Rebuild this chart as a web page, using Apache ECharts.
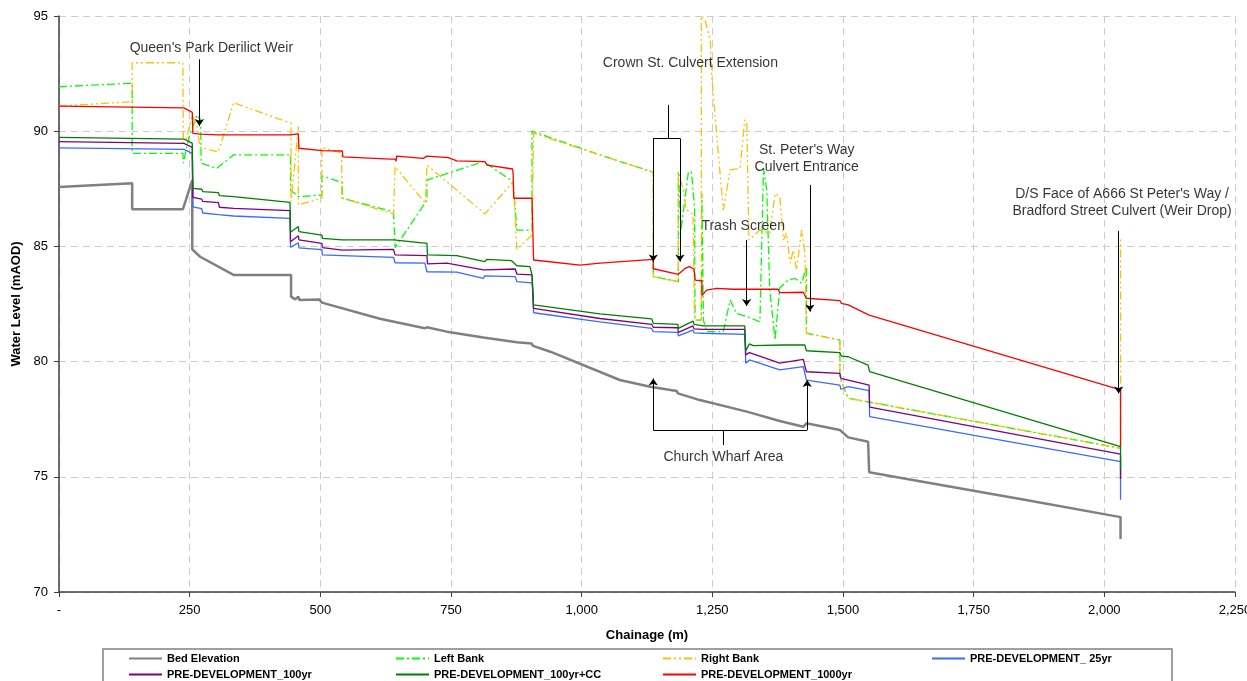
<!DOCTYPE html>
<html><head><meta charset="utf-8">
<script src="https://cdn.jsdelivr.net/npm/echarts@6.0.0/dist/echarts.min.js"></script>
<style>html,body{margin:0;padding:0;background:#fff;overflow:hidden}#c{width:1247px;height:681px}</style>
</head><body><div id="c"></div>
<script>
// ---- data (chainage m, level mAOD) ----
const xTicks = [0, 250, 500, 750, 1000, 1250, 1500, 1750, 2000, 2250];
const yTicks = [70, 75, 80, 85, 90, 95];

const bedElevation = [[0,87.58],[140,87.74],[140,86.61],[237,86.61],[255,87.88],[255,84.87],[270,84.55],[334,83.76],[444,83.76],[444,82.82],[452,82.70],[458,82.82],[460,82.67],[498,82.70],[503,82.56],[614,81.86],[700,81.45],[704,81.49],[706,81.42],[742,81.30],[812,81.05],[876,80.84],[904,80.79],[907,80.68],[940,80.43],[1073,79.20],[1131,78.91],[1182,78.72],[1184,78.62],[1226,78.33],[1316,77.83],[1379,77.42],[1424,77.17],[1430,77.32],[1494,77.03],[1510,76.71],[1548,76.52],[1550,75.20],[1609,74.96],[1850,73.99],[2031,73.25],[2031,72.30]];

const leftBank = [[0,91.93],[140,92.08],[140,89.04],[237,89.04],[238,88.61],[248,89.70],[264,90.70],[271,90.50],[272,88.61],[302,88.39],[334,88.97],[443,88.97],[443,87.45],[458,87.16],[503,87.23],[503,88.06],[542,87.77],[542,87.09],[640,86.50],[643,84.95],[704,87.00],[704,87.88],[812,88.68],[869,87.81],[876,85.71],[905,85.71],[905,90.00],[1035,88.97],[1137,88.22],[1137,83.69],[1185,83.47],[1185,88.24],[1190,85.70],[1204,88.20],[1210,88.24],[1216,86.70],[1217,81.80],[1229,81.80],[1230,87.30],[1233,87.30],[1233,81.80],[1239,81.30],[1271,81.30],[1284,82.67],[1296,82.10],[1322,81.90],[1341,81.73],[1345,85.60],[1348,88.40],[1354,87.45],[1360,83.10],[1370,80.94],[1379,83.20],[1395,83.54],[1408,83.61],[1421,83.40],[1430,84.12],[1430,81.23],[1494,80.94],[1494,79.30],[1510,78.41],[2031,76.24]];

const rightBank = [[0,91.09],[140,91.28],[140,92.97],[237,92.97],[238,89.50],[244,89.70],[255,90.70],[264,90.20],[270,89.30],[305,89.10],[334,91.24],[444,90.34],[444,86.94],[458,90.20],[458,86.80],[503,87.10],[503,89.30],[541,89.05],[541,87.10],[640,86.41],[643,88.46],[701,86.87],[704,88.53],[815,86.41],[869,87.81],[876,84.87],[905,85.49],[908,89.91],[1035,88.97],[1137,88.22],[1137,83.69],[1185,83.47],[1185,88.24],[1195,87.40],[1200,86.60],[1213,86.40],[1216,86.40],[1216,81.80],[1229,81.80],[1229,95.00],[1236,94.83],[1246,93.96],[1249,92.37],[1258,89.91],[1271,86.58],[1284,88.32],[1303,88.39],[1312,90.49],[1316,90.40],[1320,85.28],[1341,85.71],[1360,85.57],[1370,87.30],[1379,87.16],[1386,85.28],[1392,85.57],[1399,84.27],[1405,84.84],[1411,83.98],[1421,85.71],[1427,84.70],[1430,81.23],[1494,80.94],[1494,79.30],[1510,78.41],[2031,76.24],[2031,85.30]];

const preDev25yr = [[0,89.28],[239,89.21],[255,89.04],[256,86.72],[273,86.64],[275,86.45],[305,86.38],[307,86.34],[334,86.32],[442,86.22],[443,84.96],[458,85.16],[459,84.94],[503,84.86],[504,84.63],[542,84.60],[543,84.53],[640,84.52],[643,84.29],[700,84.27],[704,83.90],[761,83.88],[812,83.61],[814,83.72],[873,83.69],[876,83.47],[905,83.42],[906,83.18],[908,82.12],[1035,81.72],[1134,81.44],[1137,81.30],[1184,81.27],[1185,81.12],[1213,81.37],[1215,81.25],[1233,81.23],[1312,81.18],[1314,79.93],[1321,80.07],[1379,79.64],[1424,79.78],[1430,79.20],[1494,78.98],[1496,78.80],[1510,78.91],[1550,78.74],[1551,77.61],[2031,75.66],[2031,74.00]];

const preDev100yr = [[0,89.55],[239,89.47],[255,89.30],[256,87.13],[273,87.05],[275,86.95],[305,86.90],[307,86.70],[334,86.65],[442,86.55],[443,85.20],[458,85.46],[459,85.28],[503,85.13],[504,84.95],[542,84.84],[640,84.87],[643,84.63],[704,84.60],[705,84.24],[742,84.27],[812,83.98],[814,84.05],[873,84.02],[876,83.80],[905,83.76],[908,82.31],[1035,81.87],[1134,81.62],[1137,81.49],[1184,81.47],[1185,81.27],[1213,81.55],[1215,81.42],[1233,81.40],[1312,81.40],[1314,80.29],[1321,80.39],[1379,79.93],[1424,80.10],[1430,79.56],[1494,79.49],[1496,79.27],[1510,79.20],[1550,78.98],[1551,78.02],[2031,75.98],[2031,74.90]];

const preDev100yrCC = [[0,89.73],[239,89.66],[255,89.47],[256,87.52],[273,87.48],[275,87.38],[305,87.33],[307,87.20],[334,87.16],[442,86.91],[443,85.61],[458,85.86],[459,85.64],[503,85.49],[504,85.35],[542,85.28],[640,85.28],[643,85.25],[704,85.13],[705,84.63],[761,84.60],[815,84.34],[818,84.44],[866,84.38],[876,84.16],[901,84.12],[905,83.76],[908,82.46],[1035,82.07],[1134,81.85],[1137,81.66],[1184,81.62],[1185,81.44],[1213,81.76],[1215,81.62],[1233,81.55],[1312,81.55],[1314,80.47],[1321,80.77],[1328,80.69],[1386,80.72],[1427,80.72],[1430,80.47],[1494,80.39],[1497,80.24],[1510,80.21],[1548,79.85],[1551,79.56],[2031,76.31],[2031,75.30]];

const preDev1000yr = [[0,91.09],[239,91.01],[255,90.82],[256,89.91],[270,89.87],[305,89.84],[442,89.84],[458,89.88],[459,89.26],[503,89.16],[542,89.14],[543,88.89],[634,88.79],[643,88.79],[645,88.70],[646,88.92],[697,88.82],[704,88.92],[745,88.85],[761,88.71],[815,88.68],[819,88.53],[868,88.36],[869,88.10],[870,87.09],[905,87.09],[908,84.41],[997,84.19],[1035,84.27],[1137,84.44],[1137,84.03],[1185,83.79],[1198,84.05],[1206,84.12],[1215,84.01],[1217,83.54],[1230,83.51],[1230,82.87],[1239,83.10],[1258,83.18],[1290,83.14],[1376,83.14],[1379,82.99],[1424,83.01],[1430,82.75],[1494,82.65],[1497,82.53],[1510,82.46],[1550,82.02],[1552,81.95],[2031,78.77],[2031,76.30]];

// annotations (data coordinates)
const annotationTexts = [
  {name: "Queen's Park Derilict Weir", value: [291.5, 93.61]},
  {name: "Crown St. Culvert Extension", value: [1208, 92.96]},
  {name: "St. Peter's Way\nCulvert Entrance", value: [1430.5, 88.79]},
  {name: "Trash Screen", value: [1309, 85.90]},
  {name: "Church Wharf Area", value: [1271, 75.85]},
  {name: "D/S Face of A666 St Peter's Way /\nBradford Street Culvert (Weir Drop)", value: [2034, 86.89]}
];
const arrowSegments = [
  [[268.6, 93.12], [268.6, 90.23]],
  [[1137, 89.69], [1137, 84.34]],
  [[1188, 89.69], [1188, 84.34]],
  [[1315.6, 85.28], [1315.6, 82.41]],
  [[1436.6, 87.67], [1436.6, 82.17]],
  [[1137, 77.03], [1137, 79.27]],
  [[1431.5, 77.03], [1431.5, 79.20]],
  [[2027.4, 85.67], [2027.4, 78.62]]
];
const plainSegments = [
  [[1166, 91.14], [1166, 89.69]],
  [[1137, 89.69], [1188, 89.69]],
  [[1271, 76.38], [1271, 77.03]],
  [[1137, 77.03], [1431.5, 77.03]]
];

const FONT = "'Liberation Sans', Arial, sans-serif";
const seriesDefs = [
  {name: 'Bed Elevation', data: bedElevation, color: '#808080', width: 2.5, type: 'solid'},
  {name: 'Left Bank', data: leftBank, color: '#00FF00', width: 1.3, type: [8, 3, 2, 3]},
  {name: 'Right Bank', data: rightBank, color: '#FFC000', width: 1.3, type: [8, 3, 2, 3, 2, 3]},
  {name: 'PRE-DEVELOPMENT_ 25yr', data: preDev25yr, color: '#3A6BFF', width: 1.3, type: 'solid'},
  {name: 'PRE-DEVELOPMENT_100yr', data: preDev100yr, color: '#800080', width: 1.3, type: 'solid'},
  {name: 'PRE-DEVELOPMENT_100yr+CC', data: preDev100yrCC, color: '#008000', width: 1.3, type: 'solid'},
  {name: 'PRE-DEVELOPMENT_1000yr', data: preDev1000yr, color: '#FF0000', width: 1.3, type: 'solid'}
];

const legendPos = [[128, 653], [395, 653], [662, 653], [931, 653], [128, 669], [395, 669], [662, 669]];

const chart = echarts.init(document.getElementById('c'), null, {renderer: 'canvas'});

const series = seriesDefs.map(d => ({
  name: d.name, type: 'line', data: d.data, symbol: 'none', showSymbol: false,
  color: d.color, lineStyle: {color: d.color, width: d.width, type: d.type},
  itemStyle: {color: d.color}, animation: false, silent: true, clip: true
}));
series.push({
  name: 'arrows', type: 'lines', coordinateSystem: 'cartesian2d',
  symbol: ['none', 'arrow'], symbolSize: 7, silent: true, animation: false, z: 5,
  lineStyle: {color: '#000', width: 1, opacity: 1, curveness: 0},
  data: arrowSegments.map(s => ({coords: s}))
});
series.push({
  name: 'brackets', type: 'lines', coordinateSystem: 'cartesian2d',
  symbol: ['none', 'none'], silent: true, animation: false, z: 5,
  lineStyle: {color: '#000', width: 1, opacity: 1, curveness: 0},
  data: plainSegments.map(s => ({coords: s}))
});
series.push({
  name: 'notes', type: 'scatter', data: annotationTexts, symbolSize: 1, silent: true, animation: false, z: 6,
  itemStyle: {color: 'rgba(0,0,0,0)'},
  label: {show: true, position: 'inside', formatter: p => p.name, color: '#000', fontSize: 14,
    fontFamily: FONT, lineHeight: 17, align: 'center', verticalAlign: 'middle'}
});

const legends = seriesDefs.map((d, i) => ({
  data: [d.name], left: legendPos[i][0], top: legendPos[i][1], padding: 0,
  itemWidth: 33, itemHeight: 14, itemGap: 0, selectedMode: false,
  itemStyle: {opacity: 0, borderWidth: 0},
  textStyle: {fontSize: 11, fontWeight: 'bold', color: '#000', fontFamily: FONT}
}));

chart.setOption({
  animation: false,
  backgroundColor: '#fff',
  grid: {left: 59, right: 12, top: 16, bottom: 89, containLabel: false, outerBoundsMode: 'none'},
  legend: legends,
  graphic: [{type: 'rect', shape: {x: 103, y: 649, width: 1069, height: 40},
    style: {fill: 'none', stroke: '#808080', lineWidth: 1.5}, silent: true}],
  xAxis: {
    type: 'value', min: xTicks[0], max: xTicks[xTicks.length - 1], interval: xTicks[1] - xTicks[0],
    name: 'Chainage (m)', nameLocation: 'middle', nameGap: 37,
    nameTextStyle: {fontSize: 13, fontWeight: 'bold', color: '#000', fontFamily: FONT},
    axisLine: {show: true, onZero: false, lineStyle: {color: '#404040', width: 1.5}},
    axisTick: {show: true, inside: false, length: 5, lineStyle: {color: '#404040'}},
    axisLabel: {margin: 12, fontSize: 13, color: '#000', fontFamily: FONT,
      formatter: v => v === 0 ? '-' : v.toLocaleString('en-US')},
    splitLine: {show: true, lineStyle: {color: '#cccccc', type: [7, 5], width: 1}}
  },
  yAxis: {
    type: 'value', min: yTicks[0], max: yTicks[yTicks.length - 1], interval: yTicks[1] - yTicks[0],
    name: 'Water Level (mAOD)', nameLocation: 'middle', nameGap: 33,
    nameTextStyle: {fontSize: 13, fontWeight: 'bold', color: '#000', fontFamily: FONT},
    axisLine: {show: true, onZero: false, lineStyle: {color: '#404040', width: 1.5}},
    axisTick: {show: true, inside: false, length: 5, lineStyle: {color: '#404040'}},
    axisLabel: {margin: 11, fontSize: 13, color: '#000', fontFamily: FONT},
    splitLine: {show: true, lineStyle: {color: '#cccccc', type: [7, 5], width: 1}}
  },
  series: series
});
</script>
</body></html>
